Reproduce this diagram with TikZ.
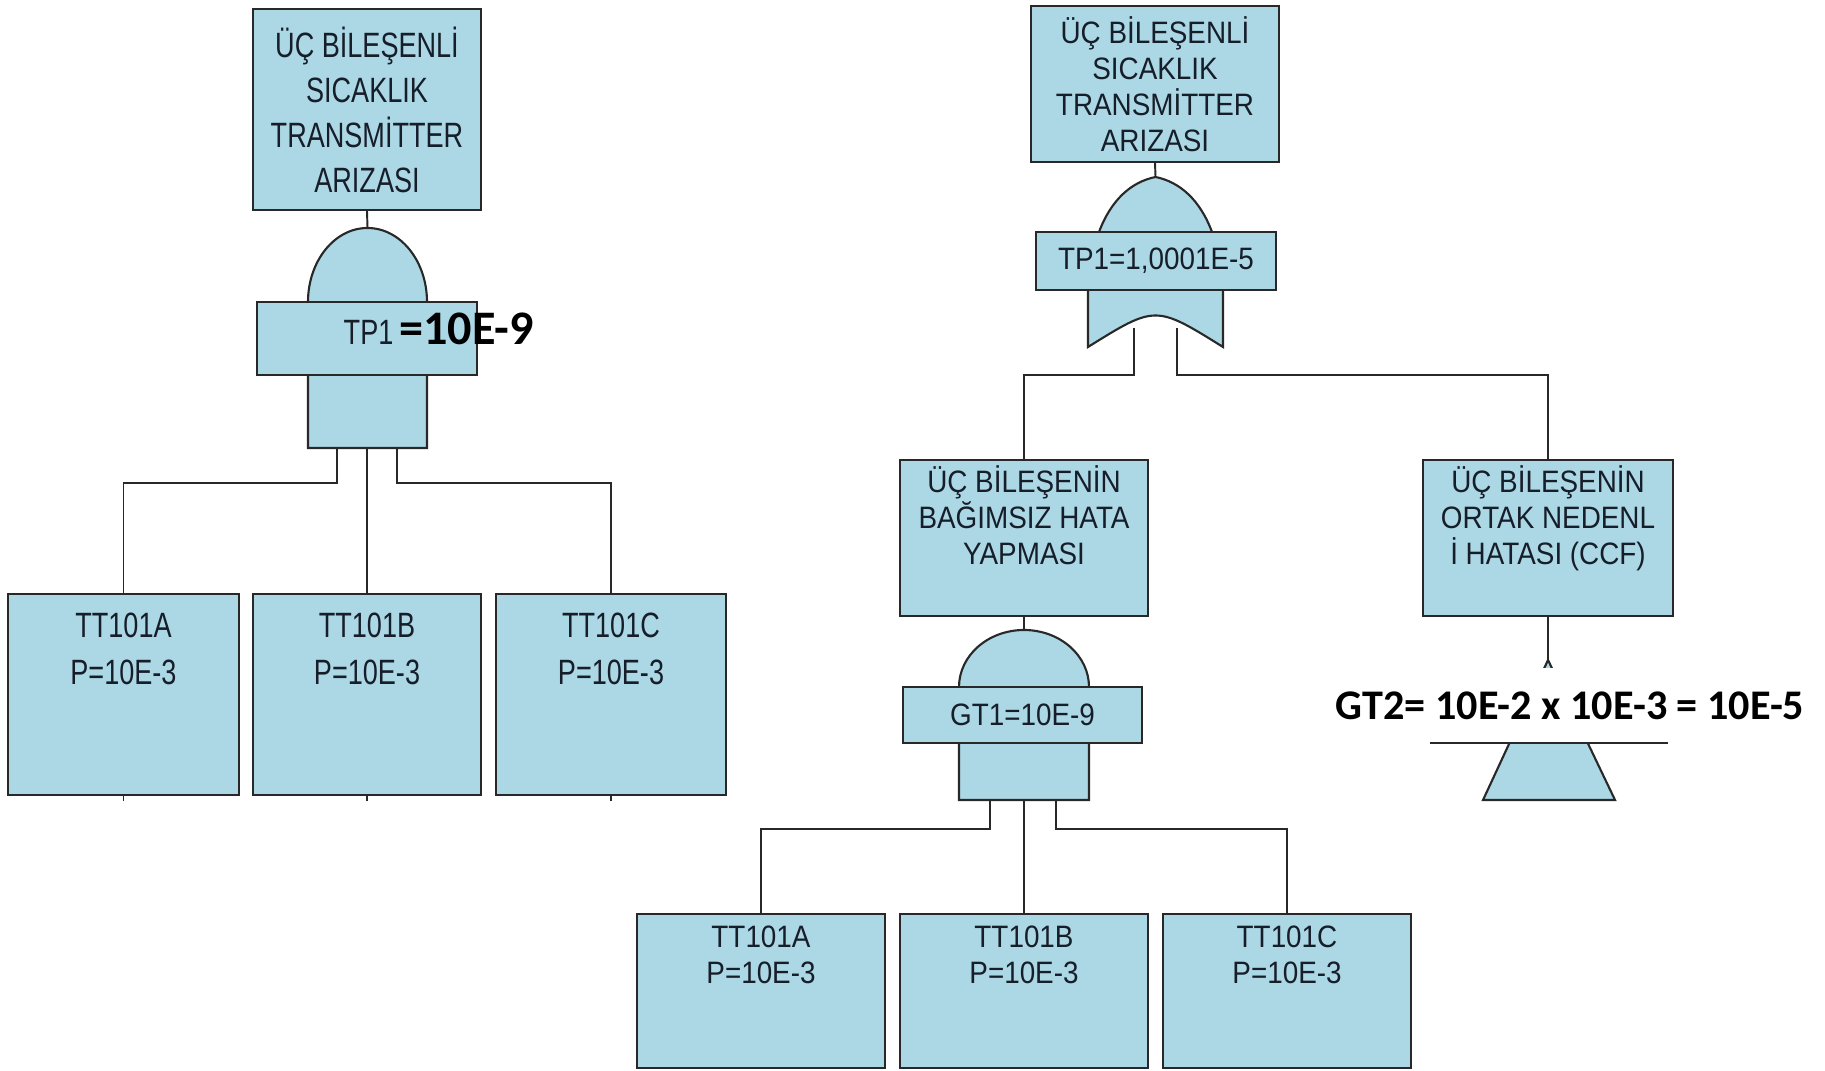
\documentclass[tikz,border=0pt]{standalone}
\usepackage{fontspec}
\setmainfont{Liberation Sans}
\newfontfamily\lfont{Liberation Sans}[FakeStretch=0.77]
\newfontfamily\rfont{Liberation Sans}[FakeStretch=0.9]
\newfontfamily\cfont{Carlito}
\usetikzlibrary{positioning}
\definecolor{ftblue}{RGB}{172,215,229}
\definecolor{ftline}{RGB}{40,40,40}
\definecolor{fttext}{RGB}{22,30,42}
\tikzset{
  evbox/.style={draw=ftline, fill=ftblue, line width=0.6pt, inner sep=0pt, text=fttext, align=center},
  gate/.style={draw=ftline, fill=ftblue, line width=0.6pt},
  wire/.style={draw=ftline, line width=0.55pt},
  ltxt/.style={font=\lfont\fontsize{10}{12.8}\selectfont, text=fttext, align=center, inner sep=0pt},
  lbtxt/.style={font=\lfont\fontsize{10}{13.4}\selectfont, text=fttext, align=center, inner sep=0pt},
  rtxt/.style={font=\rfont\fontsize{8.8}{10.2}\selectfont, text=fttext, align=center, inner sep=0pt},
}
\begin{document}
\begin{tikzpicture}[x=0.01cm, y=-0.01cm]
  \useasboundingbox (0,0) rectangle (1825,1071);

  % Sol agac: tek AND kapisi
  \node[evbox, ltxt, minimum width=2.28cm, minimum height=2.01cm] (top1) at (367,109.5)
    {ÜÇ BİLEŞENLİ\\SICAKLIK\\TRANSMİTTER\\ARIZASI};
  \filldraw[gate] (308,448) -- (308,302) .. controls (308,261) and (334.6,228) .. (367.5,228)
    .. controls (400.4,228) and (427,261) .. (427,302) -- (427,448) -- cycle;
  \coordinate (g1in) at (367.5,228);
  \node[evbox, minimum width=2.2cm, minimum height=0.73cm] (g1lbl) at (367,338.5) {};
  \node[ltxt, anchor=base west] (g1val) at (343,345)
    {TP1\,{\cfont\bfseries\fontsize{13.7}{15}\selectfont\color{black}=10E-9}};
  \draw[wire] (top1.south) -- (g1in);

  % Temel olaylar (sol)
  \node[evbox, minimum width=2.31cm, minimum height=2.01cm] (ta1) at (123.5,694.5) {};
  \node[evbox, minimum width=2.28cm, minimum height=2.01cm] (tb1) at (367,694.5) {};
  \node[evbox, minimum width=2.30cm, minimum height=2.01cm] (tc1) at (611,694.5) {};
  \node[lbtxt, anchor=north] (ta1t) at ([yshift=-0.19cm]ta1.north) {TT101A\\P=10E-3};
  \node[lbtxt, anchor=north] (tb1t) at ([yshift=-0.19cm]tb1.north) {TT101B\\P=10E-3};
  \node[lbtxt, anchor=north] (tc1t) at ([yshift=-0.19cm]tc1.north) {TT101C\\P=10E-3};

  \coordinate (g1o1) at (337,448);
  \coordinate (g1o2) at (367,448);
  \coordinate (g1o3) at (397,448);
  \draw[wire] (g1o1) -- ++(0,35) -| (ta1.north);
  \draw[wire] (g1o2) -- (tb1.north);
  \draw[wire] (g1o3) -- ++(0,35) -| (tc1.north);
  \draw[wire] (ta1.south) -- ++(0,5);
  \draw[wire] (tb1.south) -- ++(0,5);
  \draw[wire] (tc1.south) -- ++(0,5);

  % Sag agac: OR kapisi
  \node[evbox, rtxt, minimum width=2.48cm, minimum height=1.56cm] (top2) at (1155,84)
    {ÜÇ BİLEŞENLİ\\SICAKLIK\\TRANSMİTTER\\ARIZASI};
  \filldraw[gate] (1088,347) .. controls (1155.5,305) .. (1223,347) -- (1223,290) -- (1212,232)
    .. controls (1200,200) and (1180,182) .. (1155.5,177)
    .. controls (1131,182) and (1111,200) .. (1099,232) -- (1088,290) -- cycle;
  \coordinate (g2in) at (1155.5,177);
  \node[evbox, rtxt, minimum width=2.40cm, minimum height=0.58cm] (g2lbl) at (1156,261) {TP1=1,0001E-5};
  \draw[wire] (top2.south) -- (g2in);

  \node[evbox, minimum width=2.48cm, minimum height=1.56cm] (indep) at (1024,538) {};
  \node[rtxt, anchor=north] (indept) at ([yshift=-0.06cm]indep.north)
    {ÜÇ BİLEŞENİN\\BAĞIMSIZ HATA\\YAPMASI};
  \node[evbox, minimum width=2.50cm, minimum height=1.56cm] (ccf) at (1548,538) {};
  \node[rtxt, anchor=north] (ccft) at ([yshift=-0.06cm]ccf.north)
    {ÜÇ BİLEŞENİN\\ORTAK NEDENL\\İ HATASI (CCF)};

  \coordinate (g2o1) at (1134,328);
  \coordinate (g2o2) at (1177,328);
  \draw[wire] (g2o1) -- ++(0,47) -| (indep.north);
  \draw[wire] (g2o2) -- ++(0,47) -| (ccf.north);

  % GT1: AND kapisi
  \filldraw[gate] (959,800) -- (959,687) .. controls (959,655.5) and (988.1,630) .. (1024,630)
    .. controls (1059.9,630) and (1089,655.5) .. (1089,687) -- (1089,800) -- cycle;
  \coordinate (g3in) at (1024,630);
  \node[evbox, rtxt, minimum width=2.39cm, minimum height=0.56cm] (g3lbl) at (1022.5,715) {GT1=10E-9};
  \draw[wire] (indep.south) -- (g3in);

  \node[evbox, minimum width=2.48cm, minimum height=1.54cm] (ta2) at (761,991) {};
  \node[evbox, minimum width=2.48cm, minimum height=1.54cm] (tb2) at (1024,991) {};
  \node[evbox, minimum width=2.48cm, minimum height=1.54cm] (tc2) at (1287,991) {};
  \node[rtxt, anchor=north] (ta2t) at ([yshift=-0.12cm]ta2.north) {TT101A\\P=10E-3};
  \node[rtxt, anchor=north] (tb2t) at ([yshift=-0.12cm]tb2.north) {TT101B\\P=10E-3};
  \node[rtxt, anchor=north] (tc2t) at ([yshift=-0.12cm]tc2.north) {TT101C\\P=10E-3};

  \coordinate (g3o1) at (990,800);
  \coordinate (g3o2) at (1024,800);
  \coordinate (g3o3) at (1056,800);
  \draw[wire] (g3o1) -- ++(0,29) -| (ta2.north);
  \draw[wire] (g3o2) -- (tb2.north);
  \draw[wire] (g3o3) -- ++(0,29) -| (tc2.north);

  % GT2: ortak neden
  \coordinate (gt2tip) at (1548,660);
  \filldraw[gate] (gt2tip) -- (1615,800) -- (1483,800) -- cycle;
  \draw[wire] (ccf.south) -- (gt2tip);
  \node[fill=white, inner xsep=3pt, inner ysep=0pt, minimum height=0.74cm,
        font=\cfont\bfseries\fontsize{12}{14}\selectfont] (gt2lbl) at (1570,705.5)
    {GT2= 10E-2 x 10E-3 = 10E-5};
  \draw[wire] (1430,743) -- (1668,743);
\end{tikzpicture}
\end{document}
